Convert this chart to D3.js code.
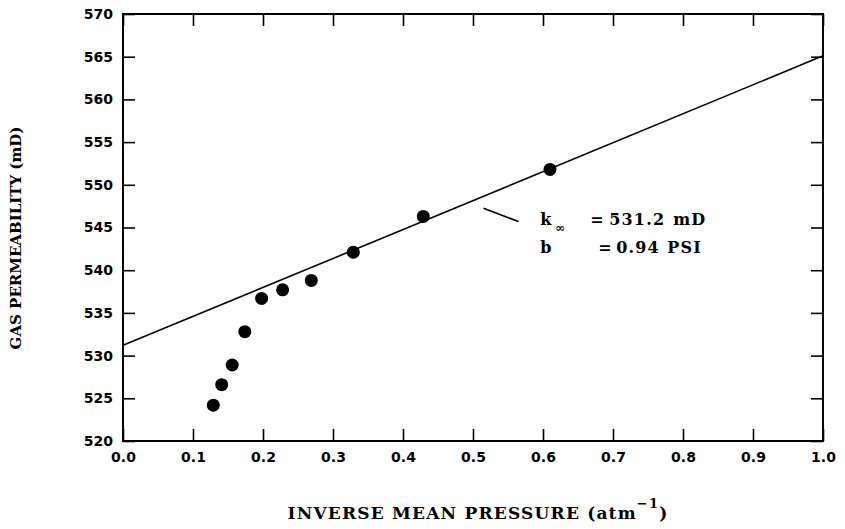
<!DOCTYPE html>
<html>
<head>
<meta charset="utf-8">
<script src="https://cdn.jsdelivr.net/npm/d3@7"></script>
<style>
  body { margin: 0; background: #fff; }
  .tick text { font-family: "DejaVu Sans", sans-serif; font-weight: bold; font-size: 14px; fill: #000; }
  .lbl { font-family: "DejaVu Serif", serif; font-weight: bold; fill: #000; }
</style>
</head>
<body>
<div id="chart"></div>
<script>
// inverse mean pressure (1/atm) and measured gas permeability (mD)
var invPressure = [0.129, 0.141, 0.156, 0.174, 0.198, 0.228, 0.269, 0.329, 0.429, 0.610];
var permeability = [524.2, 526.6, 528.9, 532.8, 536.7, 537.7, 538.8, 542.1, 546.3, 551.8];

// Klinkenberg fit: k = kInf + slope * (1/p)
var kInf = 531.2;
var slope = 33.9;

var xTicks = [0, 0.1, 0.2, 0.3, 0.4, 0.5, 0.6, 0.7, 0.8, 0.9, 1.0];
var yTicks = [520, 525, 530, 535, 540, 545, 550, 555, 560, 565, 570];

var margin = { top: 14, right: 22, bottom: 88, left: 123 },
  width = 845 - margin.left - margin.right,
  height = 529 - margin.top - margin.bottom;

var svg = d3.select("#chart")
  .append("svg")
  .attr("width", 845)
  .attr("height", 529)
  .append("g")
  .attr("transform", "translate(" + margin.left + "," + margin.top + ")");

var x = d3.scaleLinear().domain([0, 1]).range([0, width]);
var y = d3.scaleLinear().domain([520, 570]).range([height, 0]);

// axes, ticks pointing inward
svg.append("g")
  .attr("transform", "translate(0," + height + ")")
  .call(d3.axisBottom(x).tickValues(xTicks).tickFormat(d3.format(".1f"))
    .tickSizeInner(-12).tickSizeOuter(0).tickPadding(11));
svg.append("g")
  .call(d3.axisLeft(y).tickValues(yTicks).tickFormat(d3.format("d"))
    .tickSizeInner(-12).tickSizeOuter(0).tickPadding(10));
svg.append("g")
  .call(d3.axisTop(x).tickValues(xTicks).tickFormat("")
    .tickSizeInner(-12).tickSizeOuter(0));
svg.append("g")
  .attr("transform", "translate(" + width + ",0)")
  .call(d3.axisRight(y).tickValues(yTicks).tickFormat("")
    .tickSizeInner(-12).tickSizeOuter(0));

svg.selectAll(".tick line").attr("stroke", "#000").attr("stroke-width", 1.6);
svg.selectAll(".domain").remove();

svg.append("rect")
  .attr("width", width)
  .attr("height", height)
  .attr("fill", "none")
  .attr("stroke", "#000")
  .attr("stroke-width", 2);

// fitted line
svg.append("line")
  .attr("x1", x(0)).attr("y1", y(kInf))
  .attr("x2", x(1)).attr("y2", y(kInf + slope))
  .attr("stroke", "#000")
  .attr("stroke-width", 1.6);

// points
svg.append("g")
  .selectAll("circle")
  .data(invPressure)
  .enter()
  .append("circle")
  .attr("cx", function (d) { return x(d); })
  .attr("cy", function (d, i) { return y(permeability[i]); })
  .attr("r", 6.5)
  .attr("fill", "#000");

// annotation
svg.append("line")
  .attr("x1", x(0.515)).attr("y1", y(547.25))
  .attr("x2", x(0.565)).attr("y2", y(545.7))
  .attr("stroke", "#000")
  .attr("stroke-width", 1.6);

var ax = x(0.596), l1 = y(545.3), l2 = y(542.0);
function note(dx, yy, size, txt) {
  svg.append("text").attr("class", "lbl").attr("x", ax + dx).attr("y", yy)
    .style("font-size", size + "px").style("letter-spacing", "1.2px").text(txt);
}
note(0, l1, 16, "k");
note(15, l1 + 7, 12, "∞");
note(50, l1, 16, "=");
note(69, l1, 16, "531.2");
note(133, l1, 16, "mD");
note(0, l2, 16, "b");
note(58, l2, 16, "=");
note(76, l2, 16, "0.94");
note(127, l2, 16, "PSI");

// axis titles
var xt = svg.append("text").attr("class", "lbl")
  .attr("x", width / 2 + 5)
  .attr("y", height + 78)
  .attr("text-anchor", "middle")
  .style("font-size", "17px")
  .style("letter-spacing", "1.2px");
xt.append("tspan").text("INVERSE MEAN PRESSURE (atm");
xt.append("tspan").attr("dy", -11).style("font-size", "13px").text("−1");
xt.append("tspan").attr("dy", 11).text(")");

svg.append("text").attr("class", "lbl")
  .attr("transform", "rotate(-90)")
  .attr("x", -238 + margin.top)
  .attr("y", -102)
  .attr("text-anchor", "middle")
  .style("font-size", "15px")
  .text("GAS PERMEABILITY (mD)");
</script>
</body>
</html>
